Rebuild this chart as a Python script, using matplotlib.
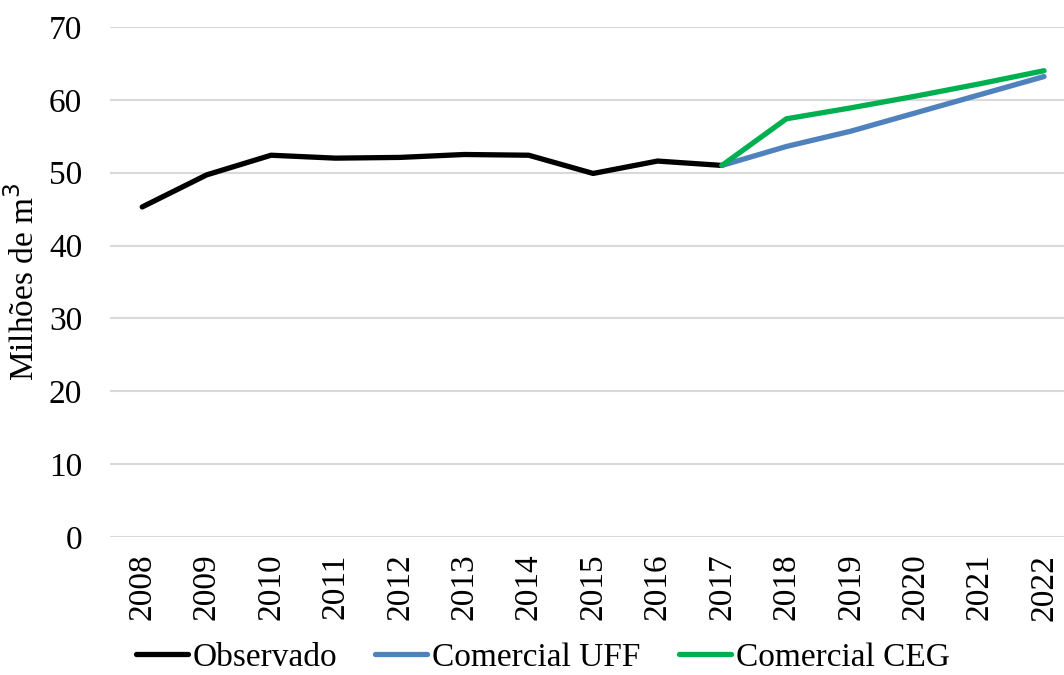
import matplotlib.pyplot as plt
import numpy as np

years = [str(y) for y in range(2008, 2023)]
observado = [45.3, 49.7, 52.4, 52.0, 52.1, 52.5, 52.4, 49.9, 51.6, 51.0]
uff = [51.0, 53.6, 55.7, 58.2, 60.7, 63.2]
ceg = [51.0, 57.4, 58.9, 60.5, 62.2, 64.0]

plt.rcParams['font.family'] = ['Liberation Serif', 'DejaVu Serif']

fig = plt.figure(figsize=(10.64, 6.75), dpi=100)
ax = fig.add_axes([110 / 1064, 138 / 675, 1 - 110 / 1064, 510 / 675])

x = np.arange(len(years))
ax.plot(x[:10], observado, color='black', lw=3.8, solid_capstyle='round', label='Observado', zorder=3)
ax.plot(x[9:], uff, color='#4f81bd', lw=3.8, solid_capstyle='round', label='Comercial UFF', zorder=3)
ax.plot(x[9:], ceg, color='#00b050', lw=3.8, solid_capstyle='round', label='Comercial CEG', zorder=4)

ax.set_xlim(-0.5, 14.31)
ax.set_ylim(0, 70)
ax.set_yticks(range(0, 71, 10))
ax.set_xticks(x)
ax.set_xticklabels(years, rotation=90)
ax.tick_params(axis='both', length=0, labelsize=24)
ax.tick_params(axis='y', pad=20)
ax.tick_params(axis='x', pad=12)
ax.grid(axis='y', color='#d9d9d9', lw=1.5)
ax.set_axisbelow(True)
for s in ax.spines.values():
    s.set_visible(False)

ax.set_ylabel('Milhões de m$^3$', fontsize=24, labelpad=6)

fig.legend(loc='center', bbox_to_anchor=(0.51, 0.026), ncol=3, frameon=False,
           fontsize=24, handlelength=1.55, handletextpad=0.15, columnspacing=1.15,
           borderpad=0.1)

fig.savefig('out.png', dpi=100)
